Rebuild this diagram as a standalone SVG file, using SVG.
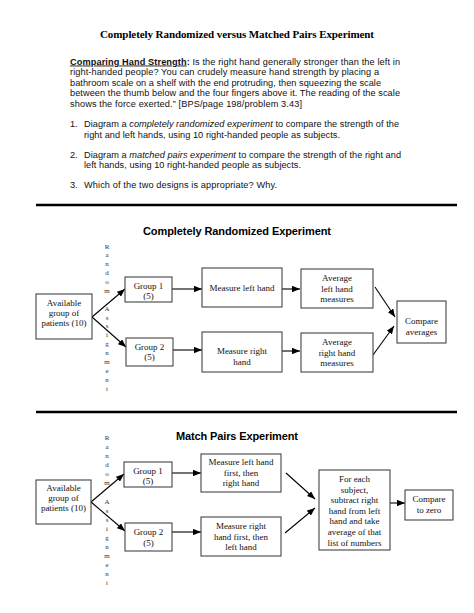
<svg xmlns="http://www.w3.org/2000/svg" width="474" height="613" viewBox="0 0 474 613">
<defs>
<marker id="ah" viewBox="0 0 10 8" refX="10" refY="4" markerWidth="8" markerHeight="6.4" markerUnits="userSpaceOnUse" orient="auto">
<path d="M0,0 L10,4 L0,8 Z" fill="#000"/>
</marker>
</defs>
<style>
.title{font-family:"Liberation Serif",serif;font-weight:bold;font-size:11px;fill:#000}
.body{font-family:"Liberation Sans",Arial,sans-serif;font-size:9.2px;fill:#111}
.sec{font-family:"Liberation Sans",Arial,sans-serif;font-weight:bold;font-size:11px;fill:#000;text-anchor:middle}
.box{fill:#fff;stroke:#444;stroke-width:1.1}
.bt{font-family:"Liberation Serif",serif;font-size:9px;fill:#111;text-anchor:middle}
.ra{font-family:"Liberation Serif",serif;font-size:7px;fill:#333;text-anchor:middle}
.rule{stroke:#000;stroke-width:2.5}
.arr{stroke:#000;stroke-width:1.1;fill:none;marker-end:url(#ah)}
</style>

<text class="title" x="237" y="38" text-anchor="middle" textLength="274">Completely Randomized versus Matched Pairs Experiment</text>

<g id="intro">
<text class="body" x="70" y="64.5" textLength="330"><tspan font-weight="bold" text-decoration="underline">Comparing Hand Strength</tspan><tspan font-weight="bold">:</tspan>  Is the right hand generally stronger than the left in</text>
<text class="body" x="70" y="75" textLength="309">right-handed people?  You can crudely measure hand strength by placing a</text>
<text class="body" x="70" y="85.5" textLength="311">bathroom scale on a shelf with the end protruding, then squeezing the scale</text>
<text class="body" x="70" y="96" textLength="330">between the thumb below and the four fingers above it.  The reading of the scale</text>
<text class="body" x="70" y="106.5" textLength="232">shows the force exerted.”  [BPS/page 198/problem 3.43]</text>
<text class="body" x="70" y="127">1.</text>
<text class="body" x="84" y="127" textLength="315">Diagram a <tspan font-style="italic">completely randomized experiment</tspan> to compare the strength of the</text>
<text class="body" x="84" y="137.5" textLength="256">right and left hands, using 10 right-handed people as subjects.</text>
<text class="body" x="70" y="157.5">2.</text>
<text class="body" x="84" y="157.5" textLength="317">Diagram a <tspan font-style="italic">matched pairs experiment</tspan> to compare the strength of the right and</text>
<text class="body" x="84" y="168" textLength="217">left hands, using 10 right-handed people as subjects.</text>
<text class="body" x="70" y="187.5">3.</text>
<text class="body" x="84" y="187.5" textLength="193">Which of the two designs is appropriate?  Why.</text>
</g>

<line class="rule" x1="36" y1="205" x2="457" y2="205"/>
<text class="sec" x="237" y="235" textLength="188">Completely Randomized Experiment</text>

<g id="cr-random-assignment">
<text class="ra" x="107" y="248.5">R</text>
<text class="ra" x="107" y="257.4">a</text>
<text class="ra" x="107" y="266.2">n</text>
<text class="ra" x="107" y="275.1">d</text>
<text class="ra" x="107" y="284">o</text>
<text class="ra" x="107" y="292.9">m</text>
<text class="ra" x="107" y="310.6">A</text>
<text class="ra" x="107" y="319.5">s</text>
<text class="ra" x="107" y="328.4">s</text>
<text class="ra" x="107" y="337.2">i</text>
<text class="ra" x="107" y="346.1">g</text>
<text class="ra" x="107" y="355">n</text>
<text class="ra" x="107" y="363.9">m</text>
<text class="ra" x="107" y="372.8">e</text>
<text class="ra" x="107" y="381.6">n</text>
<text class="ra" x="107" y="390.5">t</text>
</g>

<g id="connectors">
<line class="arr" x1="92" y1="317" x2="125" y2="289"/>
<line class="arr" x1="92" y1="317" x2="126" y2="347"/>
<line class="arr" x1="172" y1="289" x2="202" y2="289"/>
<line class="arr" x1="173" y1="350" x2="202" y2="350"/>
<line class="arr" x1="282" y1="289" x2="300" y2="289"/>
<line class="arr" x1="282" y1="351" x2="300" y2="351"/>
<line class="arr" x1="375" y1="287" x2="395" y2="317"/>
<line class="arr" x1="373" y1="355" x2="394" y2="326"/>

<line class="arr" x1="91" y1="502" x2="124" y2="474"/>
<line class="arr" x1="91" y1="502" x2="125" y2="531"/>
<line class="arr" x1="172" y1="473" x2="201" y2="473"/>
<line class="arr" x1="172" y1="532" x2="201" y2="532"/>
<line class="arr" x1="286" y1="473" x2="315" y2="499"/>
<line class="arr" x1="285" y1="533" x2="315" y2="508"/>
<line class="arr" x1="390" y1="503" x2="405" y2="503"/>
</g>

<g id="cr-available">
<rect class="box" x="36" y="294" width="56" height="45"/>
<text class="bt" x="64" y="306">Available</text>
<text class="bt" x="64" y="316">group of</text>
<text class="bt" x="64" y="326">patients (10)</text>
</g>
<g id="cr-group1">
<rect class="box" x="125" y="277" width="47" height="25"/>
<text class="bt" x="148.5" y="289">Group 1</text>
<text class="bt" x="148.5" y="298.5">(5)</text>
</g>
<g id="cr-group2">
<rect class="box" x="126" y="338" width="47" height="28"/>
<text class="bt" x="149.5" y="350">Group 2</text>
<text class="bt" x="149.5" y="360">(5)</text>
</g>
<g id="cr-measure-left">
<rect class="box" x="202" y="268" width="80" height="39"/>
<text class="bt" x="242" y="291">Measure left hand</text>
</g>
<g id="cr-measure-right">
<rect class="box" x="202" y="332" width="80" height="40"/>
<text class="bt" x="242" y="354">Measure right</text>
<text class="bt" x="242" y="365">hand</text>
</g>
<g id="cr-average-left">
<rect class="box" x="301" y="269" width="72" height="39"/>
<text class="bt" x="337" y="281">Average</text>
<text class="bt" x="337" y="291.5">left hand</text>
<text class="bt" x="337" y="302">measures</text>
</g>
<g id="cr-average-right">
<rect class="box" x="301" y="333" width="72" height="39"/>
<text class="bt" x="337" y="345">Average</text>
<text class="bt" x="337" y="355.5">right hand</text>
<text class="bt" x="337" y="366">measures</text>
</g>
<g id="cr-compare">
<rect class="box" x="397" y="301" width="49" height="42"/>
<text class="bt" x="421.5" y="324">Compare</text>
<text class="bt" x="421.5" y="335">averages</text>
</g>

<line class="rule" x1="36" y1="412" x2="457" y2="412"/>
<text class="sec" x="237" y="440" textLength="122">Match Pairs Experiment</text>

<g id="mp-random-assignment">
<text class="ra" x="107" y="440">R</text>
<text class="ra" x="107" y="449.1">a</text>
<text class="ra" x="107" y="458.1">n</text>
<text class="ra" x="107" y="467.2">d</text>
<text class="ra" x="107" y="476.3">o</text>
<text class="ra" x="107" y="485.4">m</text>
<text class="ra" x="107" y="503.5">A</text>
<text class="ra" x="107" y="512.6">s</text>
<text class="ra" x="107" y="521.6">s</text>
<text class="ra" x="107" y="530.7">i</text>
<text class="ra" x="107" y="539.8">g</text>
<text class="ra" x="107" y="548.8">n</text>
<text class="ra" x="107" y="557.9">m</text>
<text class="ra" x="107" y="567">e</text>
<text class="ra" x="107" y="576">n</text>
<text class="ra" x="107" y="585.1">t</text>
</g>

<g id="mp-available">
<rect class="box" x="36" y="480" width="55" height="44"/>
<text class="bt" x="63.5" y="491">Available</text>
<text class="bt" x="63.5" y="501">group of</text>
<text class="bt" x="63.5" y="511">patients (10)</text>
</g>
<g id="mp-group1">
<rect class="box" x="124" y="462" width="48" height="25"/>
<text class="bt" x="148" y="474">Group 1</text>
<text class="bt" x="148" y="483.5">(5)</text>
</g>
<g id="mp-group2">
<rect class="box" x="125" y="523" width="47" height="28"/>
<text class="bt" x="148.5" y="535" font-size="9.5">Group 2</text>
<text class="bt" x="148.5" y="546" font-size="9.5">(5)</text>
</g>
<g id="mp-measure-left-first">
<rect class="box" x="201" y="454" width="80" height="38"/>
<text class="bt" x="241" y="465">Measure left hand</text>
<text class="bt" x="241" y="476">first, then</text>
<text class="bt" x="241" y="486">right hand</text>
</g>
<g id="mp-measure-right-first">
<rect class="box" x="201" y="517" width="80" height="39"/>
<text class="bt" x="241" y="529">Measure right</text>
<text class="bt" x="241" y="540">hand first, then</text>
<text class="bt" x="241" y="550">left hand</text>
</g>
<g id="mp-for-each">
<rect class="box" x="319" y="470" width="71" height="80"/>
<text class="bt" x="354.5" y="482">For each</text>
<text class="bt" x="354.5" y="492.5">subject,</text>
<text class="bt" x="354.5" y="503">subtract right</text>
<text class="bt" x="354.5" y="513.5">hand from left</text>
<text class="bt" x="354.5" y="524">hand and take</text>
<text class="bt" x="354.5" y="535">average of that</text>
<text class="bt" x="354.5" y="546">list of numbers</text>
</g>
<g id="mp-compare-zero">
<rect class="box" x="405" y="490" width="48" height="30"/>
<text class="bt" x="429" y="502">Compare</text>
<text class="bt" x="429" y="513">to zero</text>
</g>
</svg>
